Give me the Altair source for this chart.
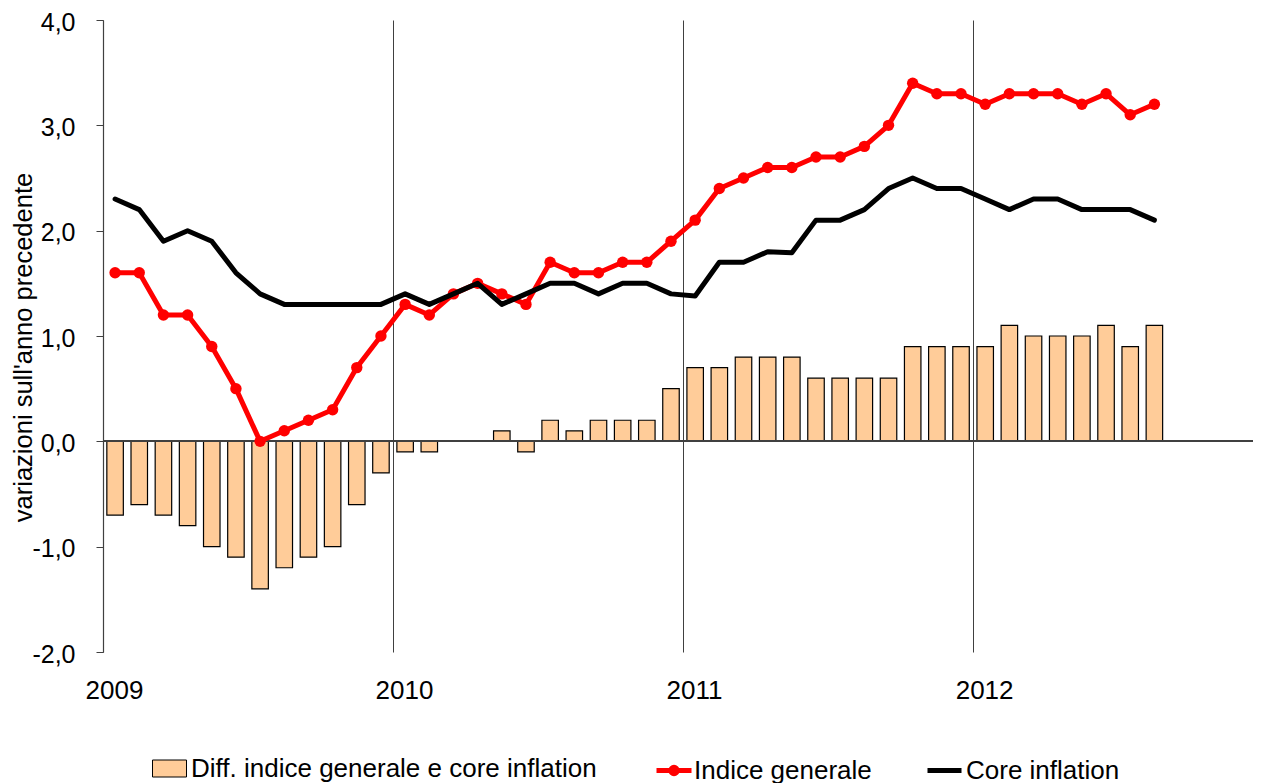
import altair as alt
import pandas as pd

FONT = "Liberation Sans, Arial, sans-serif"

anni = [2009, 2010, 2011, 2012]
mesi = [f"{a}-{m:02d}" for a in anni for m in range(1, 13)][:44]

diff_vals = [-0.7, -0.6, -0.7, -0.8, -1.0, -1.1, -1.4, -1.2, -1.1, -1.0, -0.6, -0.3,
             -0.1, -0.1, 0.0, 0.0, 0.1, -0.1, 0.2, 0.1, 0.2, 0.2, 0.2, 0.5,
             0.7, 0.7, 0.8, 0.8, 0.8, 0.6, 0.6, 0.6, 0.6, 0.9, 0.9, 0.9,
             0.9, 1.1, 1.0, 1.0, 1.0, 1.1, 0.9, 1.1]
indice_generale = [1.6, 1.6, 1.2, 1.2, 0.9, 0.5, 0.0, 0.1, 0.2, 0.3, 0.7, 1.0,
                   1.3, 1.2, 1.4, 1.5, 1.4, 1.3, 1.7, 1.6, 1.6, 1.7, 1.7, 1.9,
                   2.1, 2.4, 2.5, 2.6, 2.6, 2.7, 2.7, 2.8, 3.0, 3.4, 3.3, 3.3,
                   3.2, 3.3, 3.3, 3.3, 3.2, 3.3, 3.1, 3.2]
core_inflation = [2.3, 2.2, 1.9, 2.0, 1.9, 1.6, 1.4, 1.3, 1.3, 1.3, 1.3, 1.3,
                  1.4, 1.3, 1.4, 1.5, 1.3, 1.4, 1.5, 1.5, 1.4, 1.5, 1.5, 1.4,
                  1.38, 1.7, 1.7, 1.8, 1.79, 2.1, 2.1, 2.2, 2.4, 2.5, 2.4, 2.4,
                  2.3, 2.2, 2.3, 2.3, 2.2, 2.2, 2.2, 2.1]

serie = ["Diff. indice generale e core inflation", "Indice generale", "Core inflation"]
colori = ["#FFCC99", "#FF0000", "#000000"]
inizio_anni = [0, 12, 24, 36]
y_ticks = [-2, -1, 0, 1, 2, 3, 4]

df = pd.DataFrame({
    "mese": mesi,
    "pos": [i + 0.5 for i in range(len(mesi))],
    "diff": diff_vals,
    "indice": indice_generale,
    "core": core_inflation,
})

x_scale = alt.Scale(domain=[0, 47.58], nice=False, zero=False, padding=0)
y_scale = alt.Scale(domain=[-2, 4], nice=False, padding=0)

x_axis = alt.Axis(
    values=inizio_anni, labelExpr="toString(2009 + datum.value / 12)",
    grid=True, gridColor="#404040", gridWidth=1, ticks=False, tickSize=0,
    domain=False, labelPadding=25, labelOffset=11, labelFlush=False,
    labelOverlap=False, labelFontSize=26, labelFont=FONT, labelColor="black",
    title=None)

y_axis = alt.Axis(
    values=y_ticks,
    labelExpr="(datum.value < 0 ? '-' : '') + replace(format(abs(datum.value), '.1f'), '.', ',')",
    grid=False, domainColor="#404040", domainWidth=1.2, tickColor="#404040",
    tickSize=7, labelPadding=21, labelOffset=2, labelFontSize=25, labelFont=FONT,
    labelColor="black",
    title="variazioni sull'anno precedente", titleFont=FONT, titleFontSize=25.5,
    titleFontWeight="normal", titleColor="black", titleAngle=270,
    titleX=-72, titleY=327, titleAlign="center", titleBaseline="alphabetic")


def X():
    return alt.X("pos:Q", scale=x_scale, axis=x_axis)


def Y(field):
    return alt.Y(field + ":Q", scale=y_scale, axis=y_axis)


base = alt.Chart(df)

bars = base.transform_calculate(s1="'" + serie[0] + "'").mark_bar(
    size=16.5, stroke="black", strokeWidth=1.2
).encode(
    x=X(),
    y=Y("diff"),
    fill=alt.Fill("s1:N", scale=alt.Scale(domain=[serie[0]], range=[colori[0]]),
                  legend=alt.Legend(title=None, orient="none", legendX=49, legendY=731,
                                    symbolType="M-1,-0.5H1V0.5H-1Z", symbolSize=1156,
                                    symbolStrokeColor="black", symbolStrokeWidth=1,
                                    labelFont=FONT, labelFontSize=26, labelColor="black",
                                    labelOffset=4, labelLimit=1000, padding=0)),
)

zero_rule = base.transform_calculate(zero="0").mark_rule(
    color="#404040", strokeWidth=1.5
).encode(y=Y("zero"))

red_line = base.transform_calculate(s2="'" + serie[1] + "'").mark_line(
    strokeWidth=5, strokeJoin="round", strokeCap="round"
).encode(
    x=X(),
    y=Y("indice"),
    stroke=alt.Stroke("s2:N", scale=alt.Scale(domain=[serie[1]], range=[colori[1]]),
                      legend=alt.Legend(title=None, orient="none", legendX=551, legendY=730.5,
                                        symbolType="M-1,0H1M-0.18,0A0.18,0.18 0 1,0 0.18,0A0.18,0.18 0 1,0 -0.18,0Z",
                                        symbolSize=1225, symbolStrokeWidth=5,
                                        symbolFillColor=colori[1],
                                        labelFont=FONT, labelFontSize=26, labelColor="black",
                                        labelOffset=0, labelLimit=1000, padding=0)),
)

red_points = base.mark_circle(size=130, color=colori[1], opacity=1).encode(
    x=X(),
    y=Y("indice"),
)

black_line = base.transform_calculate(s3="'" + serie[2] + "'").mark_line(
    strokeWidth=5, strokeJoin="round", strokeCap="round"
).encode(
    x=X(),
    y=Y("core"),
    stroke=alt.Stroke("s3:N", scale=alt.Scale(domain=[serie[2]], range=[colori[2]]),
                      legend=alt.Legend(title=None, orient="none", legendX=822, legendY=731,
                                        symbolType="M-1,0H1", symbolSize=1156,
                                        symbolStrokeWidth=5,
                                        labelFont=FONT, labelFontSize=26, labelColor="black",
                                        labelOffset=2, labelLimit=1000, padding=0)),
)

chart = alt.layer(bars, zero_rule, red_line, red_points, black_line).resolve_scale(
    fill="independent", stroke="independent"
).properties(
    width=1150, height=632,
    autosize=alt.AutoSizeParams(type="none"),
    padding={"left": 95, "top": 12, "right": 0, "bottom": 131},
    background="white",
).configure_view(strokeWidth=0)

chart.save("out.html", embed_options={"renderer": "svg", "actions": False})
